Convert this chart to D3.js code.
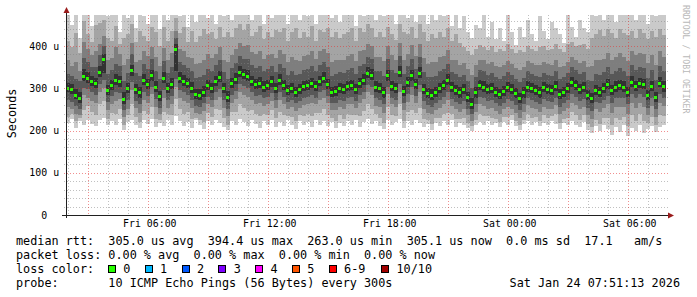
<!DOCTYPE html>
<html>
<head>
<meta charset="utf-8">
<script src="https://cdn.jsdelivr.net/npm/d3@7"></script>
<style>
  body { margin: 0; background: #fff; }
  svg { display: block; }
  text { font-family: "DejaVu Sans Mono", monospace; }
</style>
</head>
<body>
<div id="chart"></div>
<script>
// smokeping style graph, 10 pings every 300s, shown in 12 minute columns
const stepMinutes = 12;
const seriesStart = new Date(2026, 0, 23, 1, 54);

// median rtt per column (us)
const median = [
  300, 298, 285, 278, 330, 324, 318, 312, 338, 369,
  296, 308, 320, 316, 275, 300, 343, 298, 290, 320,
  310, 331, 302, 282, 324, 300, 310, 394, 324, 318,
  312, 300, 286, 284, 292, 308, 300, 318, 327, 300,
  280, 312, 322, 338, 334, 330, 318, 310, 312, 304,
  308, 316, 300, 320, 308, 296, 300, 292, 298, 306,
  308, 312, 306, 318, 324, 310, 291, 294, 300, 298,
  306, 308, 298, 312, 320, 336, 332, 303, 300, 290,
  331, 306, 300, 338, 293, 314, 331, 310, 336, 298,
  288, 284, 292, 300, 308, 320, 302, 296, 290, 298,
  280, 263, 290, 308, 304, 298, 300, 292, 286, 294,
  302, 298, 288, 276, 290, 304, 300, 296, 290, 302,
  298, 296, 306, 286, 292, 300, 314, 308, 298, 302,
  284, 276, 296, 292, 300, 310, 296, 304, 308, 303,
  292, 315, 306, 312, 310, 284, 306, 280, 313, 305
];

// the 10 sorted pings of each column (us), lowest first
const pings = [
  [218,232,256,272,290,312,334,368,412,490], [228,240,250,268,286,310,328,352,398,450],
  [206,222,240,258,274,298,322,362,430,490], [222,230,236,250,266,292,318,340,384,420],
  [212,248,284,300,316,346,372,410,460,490], [226,258,276,298,312,338,362,392,428,490],
  [216,244,270,290,306,330,350,378,410,448], [210,236,266,284,300,324,350,388,450,490],
  [224,262,292,310,326,352,378,404,455,490], [230,270,300,320,336,380,400,424,462,490],
  [214,228,248,268,284,308,334,366,420,470], [222,242,262,282,296,320,344,372,412,490],
  [212,238,270,292,308,334,358,398,448,490], [228,250,274,288,302,328,352,380,404,432],
  [202,214,232,248,262,290,318,356,418,490], [220,236,252,272,288,312,336,370,428,466],
  [226,262,296,314,330,356,380,406,452,490], [212,232,254,270,286,310,336,362,410,442],
  [206,220,242,262,278,304,330,366,436,490], [224,246,272,292,308,334,358,388,424,472],
  [216,240,264,282,298,322,346,376,412,452], [228,256,286,304,318,344,370,398,444,490],
  [208,228,256,274,290,316,340,374,432,482], [218,226,238,254,270,294,322,352,400,440],
  [210,244,278,296,312,338,364,396,446,490], [224,238,254,272,288,312,336,366,412,462],
  [214,236,262,282,298,324,350,384,436,490], [234,274,304,322,340,404,418,436,466,490],
  [222,250,276,296,312,338,362,392,430,470], [210,240,270,290,306,332,356,388,446,490],
  [220,244,266,284,300,324,348,374,410,446], [206,228,254,272,288,314,340,372,436,490],
  [224,230,242,258,274,298,324,358,410,456], [214,224,240,256,272,298,326,360,424,490],
  [204,220,246,264,280,306,332,368,440,490], [222,242,262,280,296,320,346,380,428,466],
  [212,232,256,272,288,312,340,372,432,490], [226,250,272,290,306,330,354,382,416,452],
  [218,248,280,298,314,340,366,398,444,490], [208,230,254,272,288,312,338,368,422,472],
  [202,214,234,252,268,294,322,362,432,490], [222,244,266,284,300,324,348,378,422,462],
  [214,244,274,294,310,336,360,392,442,490], [228,262,292,310,326,352,376,406,452,490],
  [220,254,284,306,322,346,370,400,438,476], [210,246,280,300,318,344,370,402,452,490],
  [224,248,272,290,306,330,356,386,424,462], [216,238,262,282,298,322,348,380,434,490],
  [206,234,264,284,300,326,352,388,448,490], [222,240,258,276,292,316,340,370,416,452],
  [212,236,262,280,296,320,346,378,432,490], [226,248,270,288,304,328,352,382,422,466],
  [208,230,254,272,288,312,338,372,438,490], [220,244,272,292,308,334,358,390,432,476],
  [210,236,262,280,296,320,348,382,442,490], [224,234,250,268,284,308,332,362,412,452],
  [214,232,256,272,288,312,340,374,432,490], [204,222,246,264,280,304,332,368,442,490],
  [222,236,254,270,286,310,334,364,418,462], [212,234,260,278,294,318,344,376,432,490],
  [220,240,262,280,296,320,346,378,422,472], [208,234,266,284,300,324,352,388,448,490],
  [224,242,262,278,294,318,342,370,412,452], [214,242,272,290,306,330,356,388,438,490],
  [222,250,278,296,312,338,362,394,432,482], [210,236,264,282,298,322,350,384,442,490],
  [220,230,248,264,280,302,330,362,422,466], [206,222,248,266,282,306,334,368,432,490],
  [218,236,256,272,288,312,338,368,418,458], [210,228,252,270,286,310,336,368,428,490],
  [222,240,262,278,294,318,344,376,432,482], [212,236,262,280,296,320,348,382,442,490],
  [224,236,254,270,286,310,334,364,412,448], [208,234,266,284,300,324,352,388,442,490],
  [220,246,274,292,308,334,358,390,432,472], [228,262,290,308,324,350,374,404,452,490],
  [216,250,284,304,320,346,370,400,442,490], [222,238,258,276,290,316,342,374,422,462],
  [210,230,256,272,288,312,340,374,432,490], [204,218,242,262,278,302,330,364,422,472],
  [224,256,286,304,318,344,370,400,446,490], [214,236,262,278,294,318,344,378,428,482],
  [220,234,256,272,288,312,336,366,414,452], [228,262,292,310,326,352,376,406,452,490],
  [206,222,248,266,282,306,334,368,432,490], [222,244,268,286,302,326,352,382,428,466],
  [212,248,284,304,318,344,370,402,446,490], [224,242,264,282,298,322,346,376,418,456],
  [218,254,290,308,324,350,374,404,452,490], [208,228,252,270,286,310,338,372,432,490],
  [216,226,242,260,276,300,326,358,412,452], [202,216,238,256,272,298,326,362,428,490],
  [218,230,248,266,280,304,330,362,418,462], [210,230,254,272,288,312,340,374,432,490],
  [222,240,262,280,296,320,346,376,422,472], [214,242,272,292,308,334,358,390,442,490],
  [224,238,258,274,290,314,338,368,412,448], [208,228,250,268,284,308,334,368,428,482],
  [218,228,244,262,278,302,326,356,406,442], [214,230,252,270,286,310,332,360,398,470],
  [206,218,236,252,268,292,316,346,388,432], [198,210,222,238,252,276,300,332,378,420],
  [212,226,244,262,278,302,326,354,394,450], [220,240,262,280,296,320,344,368,402,442],
  [214,234,258,276,292,316,340,366,398,476], [222,234,252,270,286,310,332,358,390,422],
  [212,230,254,272,288,312,336,362,400,456], [218,228,246,264,280,304,326,352,386,416],
  [208,220,240,258,274,298,322,350,394,442], [220,232,250,266,282,306,328,354,388,412],
  [214,232,256,274,290,314,338,364,404,480], [224,236,252,270,286,310,332,358,392,432],
  [210,222,242,260,276,300,322,348,384,402], [202,212,230,248,264,288,314,344,390,446],
  [216,226,244,262,278,302,324,350,386,422], [222,240,260,276,292,316,340,364,400,462],
  [212,230,254,272,288,312,334,360,394,428], [220,232,250,268,284,308,330,356,388,412],
  [210,222,244,262,278,302,326,354,398,472], [218,236,256,274,290,314,336,362,400,436],
  [214,230,252,270,286,310,332,358,390,416], [222,234,250,268,284,308,330,356,394,456],
  [216,238,260,278,294,318,342,366,404,442], [204,218,238,256,274,298,322,350,392,428],
  [218,228,246,264,280,304,326,352,386,408], [212,230,254,272,288,312,336,362,404,476],
  [222,244,266,286,302,326,350,374,410,446], [214,236,260,280,296,320,344,368,400,422],
  [208,226,250,270,286,310,334,360,402,462], [220,236,256,274,290,314,338,364,404,442],
  [202,216,236,254,272,296,320,350,394,432], [194,208,228,246,264,288,316,352,420,490],
  [210,226,250,268,284,308,334,368,428,472], [198,216,244,264,280,304,332,366,438,490],
  [212,230,254,272,288,312,338,370,424,462], [204,230,262,282,298,322,350,384,440,490],
  [190,212,242,264,284,308,334,368,430,490], [208,230,256,276,292,316,342,374,420,458],
  [196,224,256,278,296,320,348,384,440,490], [212,232,256,276,290,316,340,374,430,482],
  [188,210,240,262,280,304,330,364,426,490], [206,236,266,286,302,328,354,388,436,490],
  [198,222,254,276,294,318,344,378,420,462], [212,238,266,286,300,324,350,384,440,490],
  [194,222,256,280,298,322,348,382,430,490], [204,218,236,254,272,296,324,360,416,452],
  [210,232,258,278,294,318,344,378,436,490], [196,212,232,250,268,292,320,356,422,472],
  [208,236,266,286,302,326,352,388,440,490], [214,234,258,276,292,316,340,374,426,482]
];

const yTicks = [0, 100, 200, 300, 400];
const yTickLabels = ["0", "100", "200", "300", "400"];
const xTickTimes = [
  new Date(2026, 0, 23, 6), new Date(2026, 0, 23, 12), new Date(2026, 0, 23, 18),
  new Date(2026, 0, 24, 0), new Date(2026, 0, 24, 6)
];
const xTickLabels = ["Fri 06:00", "Fri 12:00", "Fri 18:00", "Sat 00:00", "Sat 06:00"];

const lossLabels = ["0", "1", "2", "3", "4", "5", "6-9", "10/10"];
const lossColors = ["#26ff00", "#00b8ff", "#0059ff", "#7e00ff", "#ff00ff", "#ff5500", "#ff0000", "#a10000"];
const smokeColors = ["#cacaca", "#a4a4a4", "#7e7e7e", "#585858", "#323232"];

const legendLines = [
  "median rtt:  305.0 us avg  394.4 us max  263.0 us min  305.1 us now  0.0 ms sd  17.1   am/s",
  "packet loss: 0.00 % avg  0.00 % max  0.00 % min  0.00 % now",
  "loss color:",
  "probe:       10 ICMP Echo Pings (56 Bytes) every 300s"
];
const stampText = "Sat Jan 24 07:51:13 2026";

const width = 697, height = 297;
const plot = { left: 66, right: 666, top: 15, bottom: 215 };

const svg = d3.select("#chart").append("svg")
  .attr("width", width)
  .attr("height", height);

svg.append("rect").attr("width", width).attr("height", height).attr("fill", "#fff");

const x = d3.scaleTime()
  .domain([new Date(2026, 0, 23, 1, 53), new Date(2026, 0, 24, 7, 53)])
  .range([plot.left, plot.right]);

const y = d3.scaleLinear()
  .domain([0, 473.4])
  .range([plot.bottom, plot.top]);

const colStart = i => new Date(seriesStart.getTime() + i * stepMinutes * 60000);

svg.append("clipPath").attr("id", "plotclip")
  .append("rect")
  .attr("x", plot.left + 1).attr("y", plot.top)
  .attr("width", plot.right - plot.left - 1).attr("height", plot.bottom - plot.top);

// smoke, outer pair first
const smoke = svg.append("g").attr("clip-path", "url(#plotclip)").attr("shape-rendering", "crispEdges");
pings.forEach((p, i) => {
  const x0 = Math.round(x(colStart(i)));
  const x1 = Math.round(x(colStart(i + 1)));
  for (let k = 0; k < 5; k++) {
    const top = Math.round(y(p[9 - k]));
    const bot = Math.round(y(p[k]));
    smoke.append("rect")
      .attr("x", x0).attr("y", top)
      .attr("width", x1 - x0).attr("height", Math.max(1, bot - top))
      .attr("fill", smokeColors[k]);
  }
});

// median, coloured by loss (all 0 here)
median.forEach((m, i) => {
  const x0 = Math.round(x(colStart(i)));
  const x1 = Math.round(x(colStart(i + 1)));
  smoke.append("rect")
    .attr("x", x0).attr("y", Math.round(y(m)) - 1)
    .attr("width", x1 - x0 - 1).attr("height", 3)
    .attr("fill", lossColors[0]);
});

// grid
const minorStroke = "rgba(130,130,130,0.5)";
const majorStroke = "rgba(230,50,50,0.55)";
const grid = svg.append("g").attr("shape-rendering", "crispEdges");
const minorY = d3.range(20, 470, 20).filter(v => v % 100 !== 0);
grid.selectAll(".hmin").data(minorY).join("line")
  .attr("x1", plot.left - 2).attr("x2", plot.right + 2)
  .attr("y1", d => Math.round(y(d)) + 0.5).attr("y2", d => Math.round(y(d)) + 0.5)
  .attr("stroke", minorStroke).attr("stroke-dasharray", "1,2");

const hours = d3.timeHour.range(x.domain()[0], x.domain()[1]);
grid.selectAll(".vmin").data(hours.filter(d => d.getHours() % 3 !== 0)).join("line")
  .attr("x1", d => Math.round(x(d)) + 0.5).attr("x2", d => Math.round(x(d)) + 0.5)
  .attr("y1", plot.top).attr("y2", plot.bottom)
  .attr("stroke", minorStroke).attr("stroke-dasharray", "1,2");

grid.selectAll(".vmaj").data(hours.filter(d => d.getHours() % 3 === 0)).join("line")
  .attr("x1", d => Math.round(x(d)) + 0.5).attr("x2", d => Math.round(x(d)) + 0.5)
  .attr("y1", plot.top).attr("y2", plot.bottom)
  .attr("stroke", majorStroke).attr("stroke-dasharray", "1,2");

grid.selectAll(".hmaj").data(yTicks.slice(1)).join("line")
  .attr("x1", plot.left - 2).attr("x2", plot.right + 2)
  .attr("y1", d => Math.round(y(d)) + 0.5).attr("y2", d => Math.round(y(d)) + 0.5)
  .attr("stroke", majorStroke).attr("stroke-dasharray", "1,2");

// axes
const axes = svg.append("g").attr("shape-rendering", "crispEdges");
axes.append("line")
  .attr("x1", plot.left + 0.5).attr("x2", plot.left + 0.5)
  .attr("y1", plot.bottom + 3).attr("y2", 11)
  .attr("stroke", "#202020");
axes.append("line")
  .attr("x1", plot.left - 4).attr("x2", plot.right + 3)
  .attr("y1", plot.bottom + 0.5).attr("y2", plot.bottom + 0.5)
  .attr("stroke", "#202020");
svg.append("path")
  .attr("d", `M${plot.left - 2.5},13 L${plot.left + 3.5},13 L${plot.left + 0.5},7 Z`)
  .attr("fill", "#9a1c1c");
svg.append("path")
  .attr("d", `M${plot.right + 2},${plot.bottom - 2.5} L${plot.right + 2},${plot.bottom + 3.5} L${plot.right + 8},${plot.bottom + 0.5} Z`)
  .attr("fill", "#9a1c1c");

// y labels
const ylab = svg.append("g").attr("font-size", "9.9px").attr("fill", "#000");
ylab.selectAll(".yn").data(yTicks).join("text")
  .attr("x", 47.2).attr("y", d => y(d) + 3.6)
  .attr("text-anchor", "end")
  .text((d, i) => yTickLabels[i]);
ylab.selectAll(".yu").data(yTicks.slice(1)).join("text")
  .attr("x", 53.3).attr("y", d => y(d) + 3.6)
  .text("u");

// x labels
svg.append("g").attr("font-size", "9.9px").attr("fill", "#000")
  .selectAll("text").data(xTickTimes).join("text")
  .attr("x", d => x(d) + 1.5).attr("y", 227)
  .attr("text-anchor", "middle")
  .text((d, i) => xTickLabels[i]);

// axis title
svg.append("text")
  .attr("transform", "translate(15.5,113.5) rotate(-90)")
  .attr("text-anchor", "middle")
  .attr("font-size", "11.8px")
  .text("Seconds");

// watermark
svg.append("text")
  .attr("transform", "translate(683,5) rotate(90)")
  .attr("font-size", "8.2px")
  .attr("fill", "#b8b8b8")
  .text("RRDTOOL / TOBI OETIKER");

// legend
const legend = svg.append("g").attr("font-size", "11.8px").attr("fill", "#000");
const baselines = [245, 259, 273, 287];
legendLines.forEach((t, i) => {
  legend.append("text")
    .attr("x", 16).attr("y", baselines[i])
    .attr("xml:space", "preserve")
    .style("white-space", "pre")
    .text(t);
});
legend.append("text")
  .attr("x", 680).attr("y", baselines[3])
  .attr("text-anchor", "end")
  .text(stampText);

const boxX = lossLabels.map((d, i) => 108 + i * 36.8 + (i === 7 ? 15.6 : 0));
lossLabels.forEach((lab, i) => {
  legend.append("rect")
    .attr("x", boxX[i] + 0.5).attr("y", 265.5)
    .attr("width", 7).attr("height", 7)
    .attr("fill", lossColors[i])
    .attr("stroke", "#000").attr("stroke-width", 1)
    .attr("shape-rendering", "crispEdges");
  legend.append("text")
    .attr("x", boxX[i] + 15.3).attr("y", baselines[2])
    .text(lab);
});
</script>
</body>
</html>
